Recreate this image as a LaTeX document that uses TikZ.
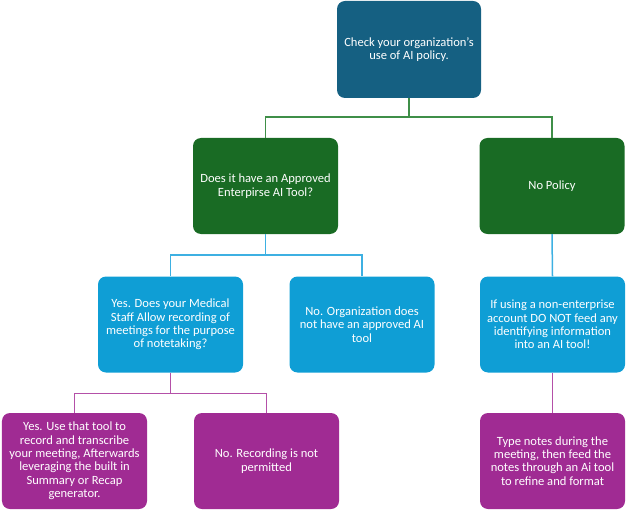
\documentclass[tikz,border=0pt]{standalone}
\usepackage{fontspec}
\setmainfont{Carlito}
\definecolor{topblue}{HTML}{156082}
\definecolor{dgreen}{HTML}{196B24}
\definecolor{lblue}{HTML}{0F9ED5}
\definecolor{purp}{HTML}{A02B93}
\definecolor{gline}{HTML}{3F8F48}
\definecolor{bline}{HTML}{3DB0E2}
\definecolor{pline}{HTML}{B450A8}
\begin{document}
\begin{tikzpicture}[x=1bp,y=-1bp,
  box/.style={rounded corners=8bp, draw=none, text=white, align=center,
    font=\fontsize{12.6}{13.4}\selectfont, inner sep=0pt,
    minimum width=145bp, minimum height=96bp},
  conn/.style={line width=1.5bp}]
\useasboundingbox (0,0) rectangle (629,511);
\node[box, fill=topblue, minimum width=144bp, minimum height=97bp] (top) at (409,49.5) {Check your organization's\\use of AI policy.};
\node[box, fill=dgreen] (gl) at (265.5,186) {Does it have an Approved\\Enterpirse AI Tool?};
\node[box, fill=dgreen] (gr) at (552,186) {No Policy};
\node[box, fill=lblue] (bl) at (170.5,324.5) {Yes. Does your Medical\\Staff Allow recording of\\meetings for the purpose\\of notetaking?};
\node[box, fill=lblue] (bm) at (362,324.5) {No. Organization does\\not have an approved AI\\tool};
\node[box, fill=lblue] (br) at (552.5,324.5) {If using a non-enterprise\\account DO NOT feed any\\identifying information\\into an AI tool!};
\node[box, fill=purp] (pl) at (74.5,461) {Yes. Use that tool to\\record and transcribe\\your meeting, Afterwards\\leveraging the built in\\Summary or Recap\\generator.};
\node[box, fill=purp] (pm) at (266.5,461) {No. Recording is not\\permitted};
\node[box, fill=purp] (pr) at (552.5,461) {Type notes during the\\meeting, then feed the\\notes through an Ai tool\\to refine and format};
\draw[conn, gline] (top.south) -- ++(0,19) -| (gl.north);
\draw[conn, gline] (top.south) -- ++(0,19) -| (gr.north);
\draw[conn, bline] (gl.south) -- ++(0,21) -| (bl.north);
\draw[conn, bline] (gl.south) -- ++(0,21) -| (bm.north);
\draw[conn, bline] (gr.south) -- (br.north);
\draw[conn, pline] (bl.south) -- ++(0,21) -| (pl.north);
\draw[conn, pline] (bl.south) -- ++(0,21) -| (pm.north);
\draw[conn, pline] (br.south) -- (pr.north);
\end{tikzpicture}
\end{document}
